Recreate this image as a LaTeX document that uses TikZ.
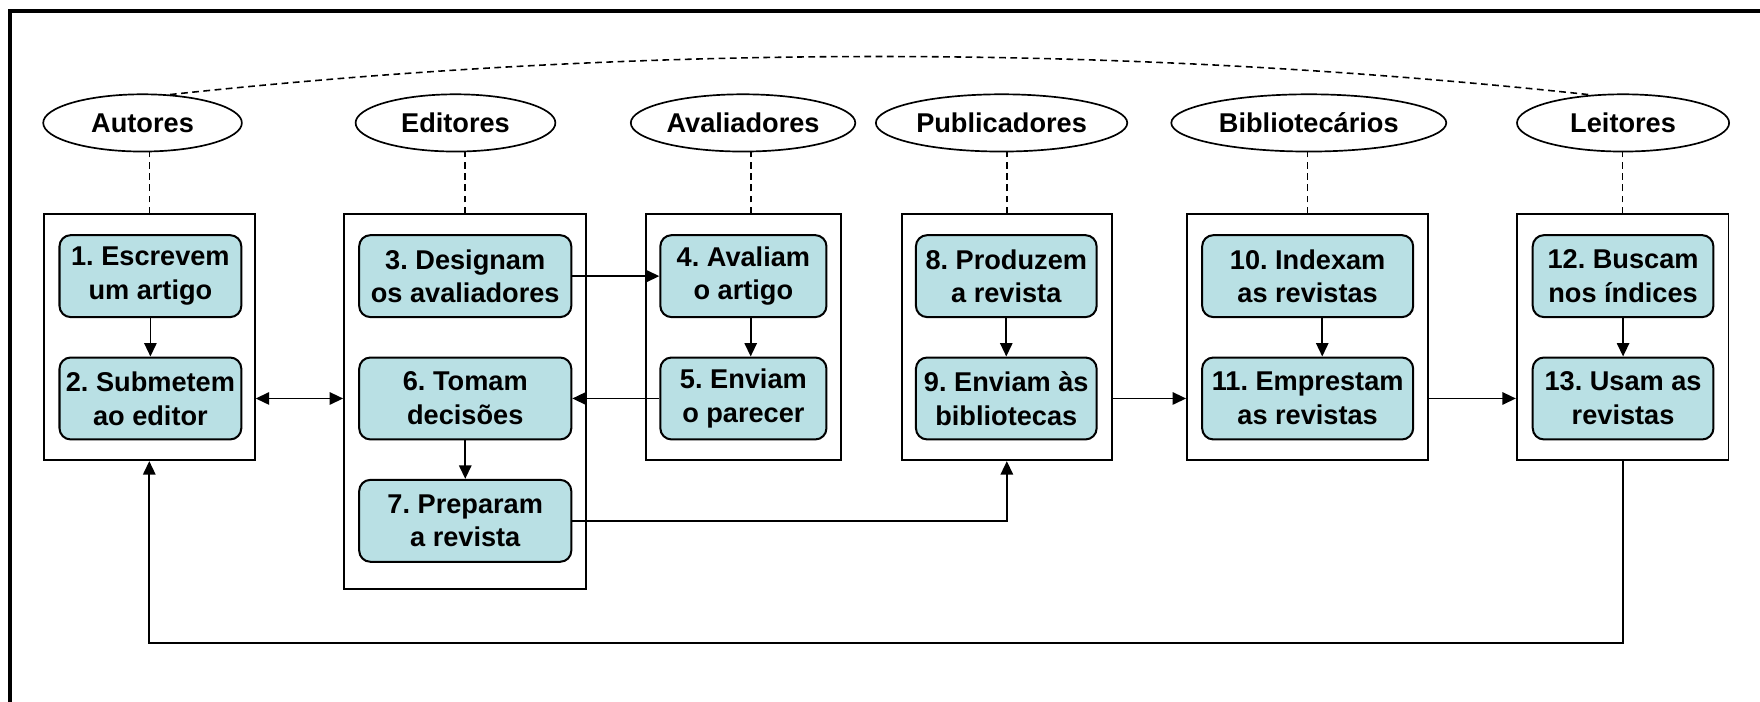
\documentclass[tikz,border=0pt]{standalone}
\usepackage{fontspec}
\setmainfont{Liberation Sans}
\usetikzlibrary{arrows.meta,shapes.geometric}
\definecolor{taskfill}{RGB}{185,224,228}
\tikzset{>={Triangle[length=12pt,width=11pt]}}
\frenchspacing
\begin{document}
\begin{tikzpicture}[x=1pt,y=-1pt,
    label font/.style={font=\bfseries\fontsize{24.2}{30}\selectfont},
    actor/.style={draw, ellipse, line width=1.5pt, minimum height=51, inner sep=0, label font},
    lane/.style={draw, line width=1.6pt, minimum height=219, inner sep=0},
    task/.style={draw, line width=1.8pt, rounded corners=10pt, fill=taskfill, align=center,
      inner sep=0, minimum height=73, label font},
    link/.style={line width=1.4pt, dash pattern=on 6pt off 4pt},
    flow/.style={line width=1.6pt}]
  \useasboundingbox (0,0) rectangle (1568,625);
  \draw[line width=3.6pt] (9,625) |- (1568,9.5);

  \node[actor, minimum width=177] (autores) at (127,109.5) {Autores};
  \node[actor, minimum width=178] (editores) at (405.8,109.5) {Editores};
  \node[actor, minimum width=200] (avaliadores) at (662,109.5) {Avaliadores};
  \node[actor, minimum width=224] (publicadores) at (892.3,109.5) {Publicadores};
  \node[actor, minimum width=245] (bibliotecarios) at (1166,109.5) {Bibliotecários};
  \node[actor, minimum width=189] (leitores) at (1446,109.5) {Leitores};

  \node[lane, minimum width=188] (laneA) at (133,300.5) {};
  \node[lane, minimum width=215.5, minimum height=334] (laneE) at (414.25,358) {};
  \node[lane, minimum width=173.8] (laneV) at (662.4,300.5) {};
  \node[lane, minimum width=187.5] (laneP) at (897,300.5) {};
  \node[lane, minimum width=214.5] (laneB) at (1164.75,300.5) {};
  \node[lane, minimum width=188.7] (laneL) at (1445.65,300.5) {};

  \node[task, minimum width=162] (t1) at (134,246) {1. Escrevem\\um artigo};
  \node[task, minimum width=162] (t2) at (134,355) {2. Submetem\\ao editor};
  \node[task, minimum width=189] (t3) at (414.5,246) {3. Designam\\os avaliadores};
  \node[task, minimum width=189] (t6) at (414.5,355) {6. Tomam\\decisões};
  \node[task, minimum width=189] (t7) at (414.5,464) {7. Preparam\\a revista};
  \node[task, minimum width=148] (t4) at (662.3,246) {4. Avaliam\\o artigo};
  \node[task, minimum width=148] (t5) at (662.3,355) {5. Enviam\\o parecer};
  \node[task, minimum width=161] (t8) at (896.5,246) {8. Produzem\\a revista};
  \node[task, minimum width=161] (t9) at (896.5,355) {9. Enviam às\\bibliotecas};
  \node[task, minimum width=188] (t10) at (1165,246) {10. Indexam\\as revistas};
  \node[task, minimum width=188] (t11) at (1165,355) {11. Emprestam\\as revistas};
  \node[task, minimum width=161] (t12) at (1446,246) {12. Buscam\\nos índices};
  \node[task, minimum width=161] (t13) at (1446,355) {13. Usam as\\revistas};

  \coordinate (back) at (1445.65,573);

  \draw[link] (autores.46) .. controls (573,39) and (995,39) .. (leitores.139);
  \draw[link] (laneA.north) -- (laneA.north |- autores.south);
  \draw[link] (laneE.north) -- (laneE.north |- editores.south);
  \draw[link] ([xshift=6.5pt]laneV.north) -- ([xshift=6.5pt]laneV.north |- avaliadores.south);
  \draw[link] (laneP.north) -- (laneP.north |- publicadores.south);
  \draw[link] (laneB.north) -- (laneB.north |- bibliotecarios.south);
  \draw[link] (laneL.north) -- (laneL.north |- leitores.south);

  \draw[flow, ->] (t1) -- (t2);
  \draw[flow, <->] (laneA.east |- t2) -- (laneE.west |- t6);
  \draw[flow, ->] (t3) -- (t4);
  \draw[flow, ->] ([xshift=6.5pt]t4.south) -- ([xshift=6.5pt]t5.north);
  \draw[flow, ->] (t5) -- (t6);
  \draw[flow, ->] (t6) -- (t7);
  \draw[flow, ->] (t7) -| (laneP);
  \draw[flow, ->] (t8) -- (t9);
  \draw[flow, ->] (laneP.east |- t9) -- (laneB.west |- t11);
  \draw[flow, ->] ([xshift=13pt]t10.south) -- ([xshift=13pt]t11.north);
  \draw[flow, ->] (laneB.east |- t11) -- (laneL.west |- t13);
  \draw[flow, ->] (t12) -- (t13);
  \draw[flow, ->] (laneL) -- (back) -| (laneA);
\end{tikzpicture}
\end{document}
